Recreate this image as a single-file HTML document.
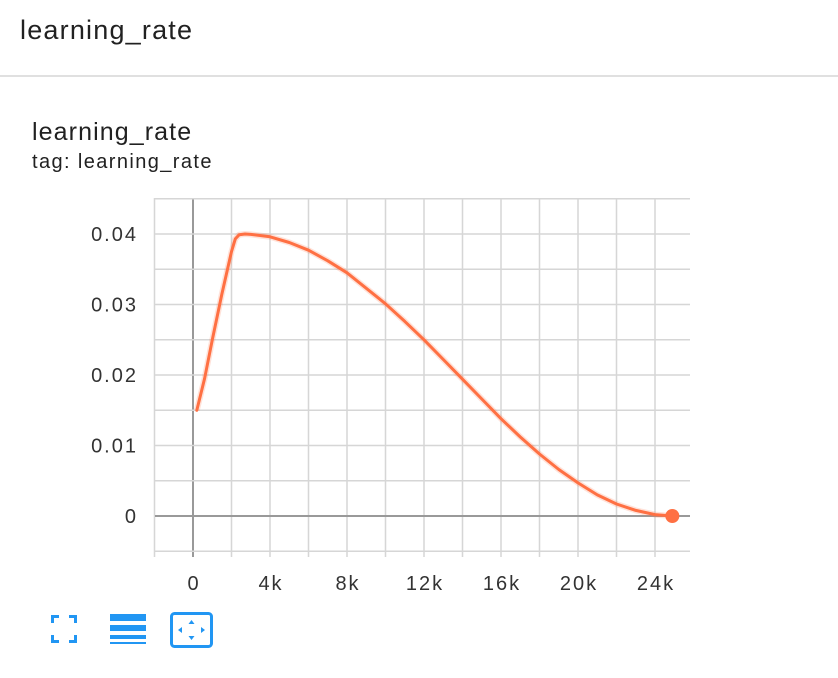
<!DOCTYPE html>
<html><head><meta charset="utf-8"><style>
body{margin:0;width:838px;height:678px;background:#fff;font-family:"Liberation Sans",sans-serif;overflow:hidden;position:relative}
.t{position:absolute;color:#212121;white-space:nowrap}
</style></head><body>
<div class="t" style="left:20px;top:15px;font-size:27px;letter-spacing:1.2px">learning_rate</div>
<div style="position:absolute;left:0;top:75px;width:838px;height:2px;background:#e0e0e0"></div>
<div class="t" style="left:32px;top:118px;font-size:25px;letter-spacing:1.1px">learning_rate</div>
<div class="t" style="left:32px;top:151px;font-size:20px;letter-spacing:1.4px">tag: learning_rate</div>
<svg id="chart" width="838" height="678" style="position:absolute;left:0;top:0">
<g id="grid"></g><g id="ticks"></g><g id="series"></g>
</svg>
<svg style="position:absolute;left:48px;top:612px" width="32" height="34" viewBox="0 0 32 34">
<path d="M3 3h8v3H6v5H3zM29 3h-8v3h5v5h3zM3 31h8v-3H6v-5H3zM29 31h-8v-3h5v-5h3z" fill="#2196f3"/></svg>
<svg style="position:absolute;left:108px;top:612px" width="40" height="34" viewBox="0 0 40 34">
<rect x="2" y="2" width="36" height="7" fill="#2196f3"/><rect x="2" y="13" width="36" height="6" fill="#2196f3"/><rect x="2" y="23" width="36" height="4" fill="#2196f3"/><rect x="2" y="30" width="36" height="2" fill="#2196f3"/></svg>
<svg style="position:absolute;left:168px;top:610px" width="48" height="40" viewBox="0 0 48 40">
<rect x="3.5" y="3.5" width="40" height="33" rx="3" fill="none" stroke="#2196f3" stroke-width="3"/>
<path d="M23.5 10l3 4h-6zM23.5 30l3-4h-6zM10 20l4-3v6zM37 20l-4-3v6z" fill="#2196f3"/></svg>
<script>
const steps=[0.2,0.6,1,1.5,2,2.2,2.4,2.7,3,4,5,6,7,8,9,10,11,12,13,14,15,16,17,18,19,20,21,22,23,24,24.9];
const values=[0.015,0.0195,0.025,0.0315,0.0375,0.0393,0.0399,0.04,0.03995,0.0396,0.0388,0.0377,0.0362,0.0345,0.0323,0.0301,0.0276,0.0250,0.0222,0.0194,0.0166,0.0138,0.0112,0.0088,0.0066,0.0047,0.0030,0.0017,0.0008,0.0002,0];
const xTicks=[0,4000,8000,12000,16000,20000,24000];
const xTickLabels=["0","4k","8k","12k","16k","20k","24k"];
const yTicks=[0,0.01,0.02,0.03,0.04];
const yTickLabels=["0","0.01","0.02","0.03","0.04"];
const L=155,R=690,T=198,B=551;
const X=v=>193+v*0.01925;
const Y=v=>516-v*7050;
const NS='http://www.w3.org/2000/svg';
function mk(p,tag,at){const e=document.createElementNS(NS,tag);for(const k in at)e.setAttribute(k,at[k]);p.appendChild(e);return e;}
const grid=document.getElementById('grid'),ticks=document.getElementById('ticks'),series=document.getElementById('series');
for(let s=-2000;s<=26000;s+=2000){const x=X(s);if(x<L-1||x>R)continue;
 const g=mk(grid,'line',{x1:x,x2:x,y1:T,y2:B+6,stroke:s===0?'#999':'#d6d6d6','stroke-width':s===0?2:1.5});
 
 }
for(let v=-0.005;v<=0.0451;v+=0.005){const y=Y(v);
 const g=mk(grid,'line',{x1:L,x2:R,y1:y,y2:y,stroke:Math.abs(v)<1e-9?'#999':'#d6d6d6','stroke-width':Math.abs(v)<1e-9?2:1.5});
 
 }
xTicks.forEach((t,i)=>{const e=mk(ticks,'text',{x:X(t)+1,y:590,'text-anchor':'middle','font-size':20,'letter-spacing':2,fill:'#333','font-family':'Liberation Sans'});e.textContent=xTickLabels[i];
 
 });
yTicks.forEach((t,i)=>{const e=mk(ticks,'text',{x:138,y:Y(t)+7,'text-anchor':'end','font-size':20,'letter-spacing':2,fill:'#333','font-family':'Liberation Sans'});e.textContent=yTickLabels[i];
 
 });
let d='';steps.forEach((s,i)=>{d+=(i?'L':'M')+X(s*1000).toFixed(1)+' '+Y(values[i]).toFixed(1);});
const halo=mk(series,'path',{d:d,fill:'none',stroke:'#ff7043','stroke-opacity':0.2,'stroke-width':6,'stroke-linejoin':'round'});


const line=mk(series,'path',{d:d,fill:'none',stroke:'#ff7043','stroke-width':3,'stroke-linejoin':'round','stroke-linecap':'round'});


const n=steps.length-1;
const dot=mk(series,'circle',{cx:X(steps[n]*1000),cy:Y(values[n]),r:7,fill:'#ff7043'});


</script>
</body></html>
